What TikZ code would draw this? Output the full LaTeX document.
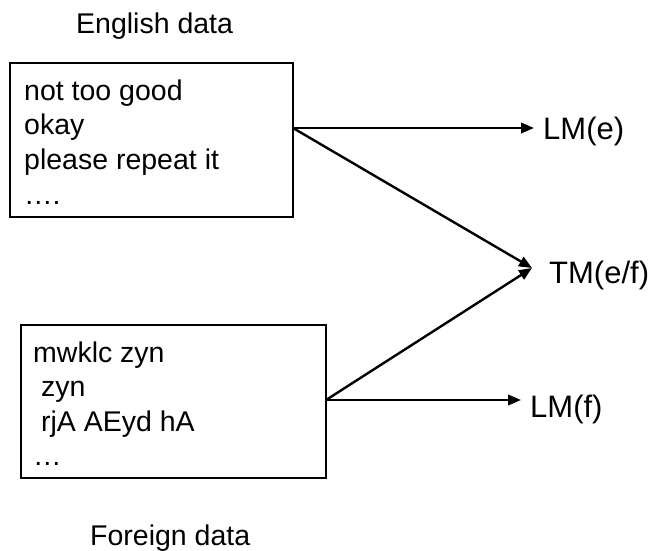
\documentclass[tikz,border=0pt]{standalone}
\usepackage{fontspec}
\setmainfont{Liberation Sans}
\usetikzlibrary{arrows.meta}
\begin{document}
\begin{tikzpicture}[x=1pt,y=-1pt,
  databox/.style={draw=black,line width=1.3pt,rectangle,inner sep=0pt},
  txt/.style={anchor=base west,inner sep=0pt,font=\fontsize{28.5}{34}\selectfont},
  lbl/.style={anchor=base west,inner sep=0pt,font=\fontsize{31}{37}\selectfont},
  flow/.style={line width=2.4pt,-{Triangle[length=13pt,width=10.5pt]}}]
\useasboundingbox (0,0) rectangle (653,550);

% titles
\node[txt] (etitle) at (76,33) {English data};
\node[txt] (ftitle) at (90,545) {Foreign data};

% English data box
\node[databox,minimum width=283pt,minimum height=154pt] (ebox) at (151.5,140) {};
\node[txt] (e1) at (24,100) {not too good};
\node[txt] (e2) at (24,134.7) {okay};
\node[txt] (e3) at (24,169.4) {please repeat it};
\node[txt] (e4) at (24,204) {….};

% Foreign data box
\node[databox,minimum width=305pt,minimum height=153pt] (fbox) at (173.5,401.5) {};
\node[txt] (f1) at (33,362) {mwklc zyn};
\node[txt] (f2) at (33,396.5) {\hspace*{0.278em}zyn};
\node[txt] (f3) at (33,431) {\hspace*{0.278em}rjA AEyd hA};
\node[txt] (f4) at (33,465.5) {…};

% models
\node[lbl] (lme) at (543,139) {LM(e)};
\node[lbl] (tm) at (549,283) {TM(e/f)};
\node[lbl] (lmf) at (530,417) {LM(f)};

% connector end points
\coordinate (eout) at (293,128);
\coordinate (fout) at (326,400);
\coordinate (lmein) at (534,128);
\coordinate (tmin) at (532,268);
\coordinate (lmfin) at (521,400);

\draw[flow] (eout) -- (lmein);
\draw[flow] (eout) -- (tmin);
\draw[flow] (fout) -- (tmin);
\draw[flow] (fout) -- (lmfin);
\end{tikzpicture}
\end{document}
